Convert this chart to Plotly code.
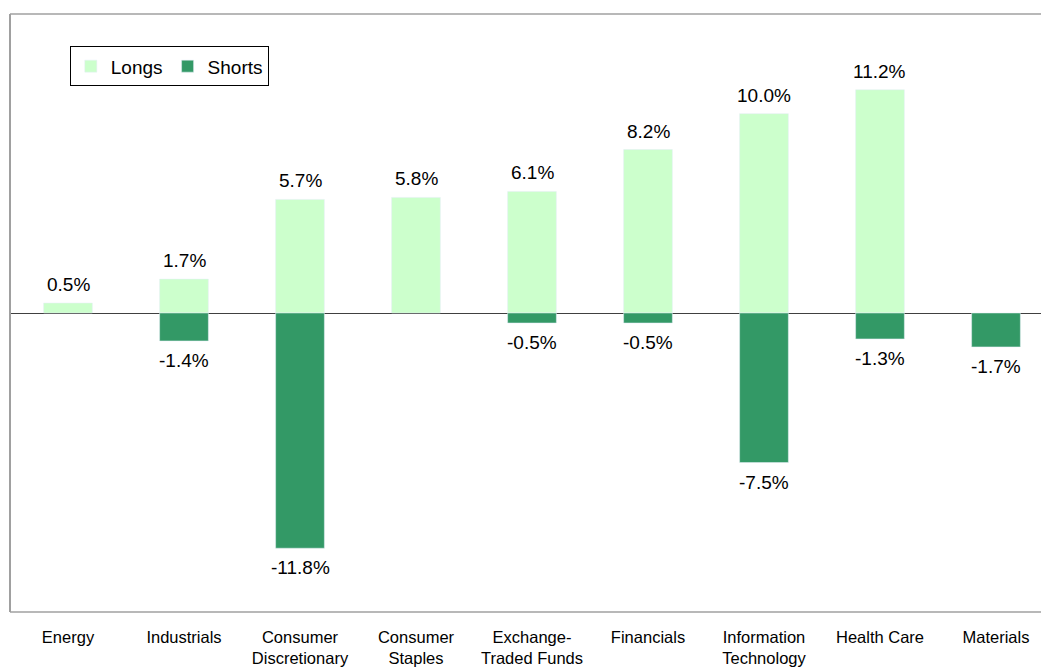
import plotly.graph_objects as go

categories = ["Energy", "Industrials", "Consumer<br>Discretionary", "Consumer<br>Staples",
              "Exchange-<br>Traded Funds", "Financials", "Information<br>Technology",
              "Health Care", "Materials"]
longs = [0.5, 1.7, 5.7, 5.8, 6.1, 8.2, 10.0, 11.2, None]
shorts = [None, -1.4, -11.8, None, -0.5, -0.5, -7.5, -1.3, -1.7]

fig = go.Figure()
fig.add_trace(go.Bar(x=categories, y=longs, name="Longs", marker_color="#CCFFCC",
                     width=0.42, cliponaxis=False))
fig.add_trace(go.Bar(x=categories, y=shorts, name="Shorts", marker_color="#339966",
                     width=0.42, cliponaxis=False))

annotations = []
for cat, v in zip(categories, longs):
    if v is not None:
        annotations.append(dict(x=cat, y=v, text=f"{v:.1f}%", showarrow=False,
                                yanchor="bottom", yshift=6, font=dict(size=19, color="black")))
for cat, v in zip(categories, shorts):
    if v is not None:
        annotations.append(dict(x=cat, y=v, text=f"{v:.1f}%", showarrow=False,
                                yanchor="top", yshift=-7, font=dict(size=19, color="black")))

fig.update_layout(
    width=1041, height=671,
    margin=dict(l=10, r=0, t=14, b=59),
    barmode="overlay",
    plot_bgcolor="white", paper_bgcolor="white",
    font=dict(family="Liberation Sans, Arial, sans-serif", color="black"),
    showlegend=True,
    annotations=annotations,
    legend=dict(orientation="h", x=0.058, y=0.946, xanchor="left", yanchor="top",
                bordercolor="black", borderwidth=1, bgcolor="white",
                font=dict(size=19), itemwidth=30, tracegroupgap=0),
    xaxis=dict(range=[-0.5, 8.388], showgrid=False, showline=False, ticks="",
               tickfont=dict(size=16.5), automargin=False, ticklabelstandoff=13),
    yaxis=dict(range=[-15, 15], showgrid=False, showticklabels=False, ticks="",
               zeroline=True, zerolinecolor="#404040", zerolinewidth=1, showline=False),
    shapes=[
        dict(type="line", xref="paper", yref="paper", x0=0, x1=0, y0=0, y1=1,
             line=dict(color="#A0A0A0", width=2)),
        dict(type="line", xref="paper", yref="paper", x0=0, x1=1, y0=1, y1=1,
             line=dict(color="#A0A0A0", width=1.5)),
        dict(type="line", xref="paper", yref="paper", x0=0, x1=1, y0=0, y1=0,
             line=dict(color="#A0A0A0", width=1.5)),
    ],
)

fig.write_html("out.html", config={"displayModeBar": False},
               post_script="document.body.style.margin='0';document.body.style.overflow='hidden';")
